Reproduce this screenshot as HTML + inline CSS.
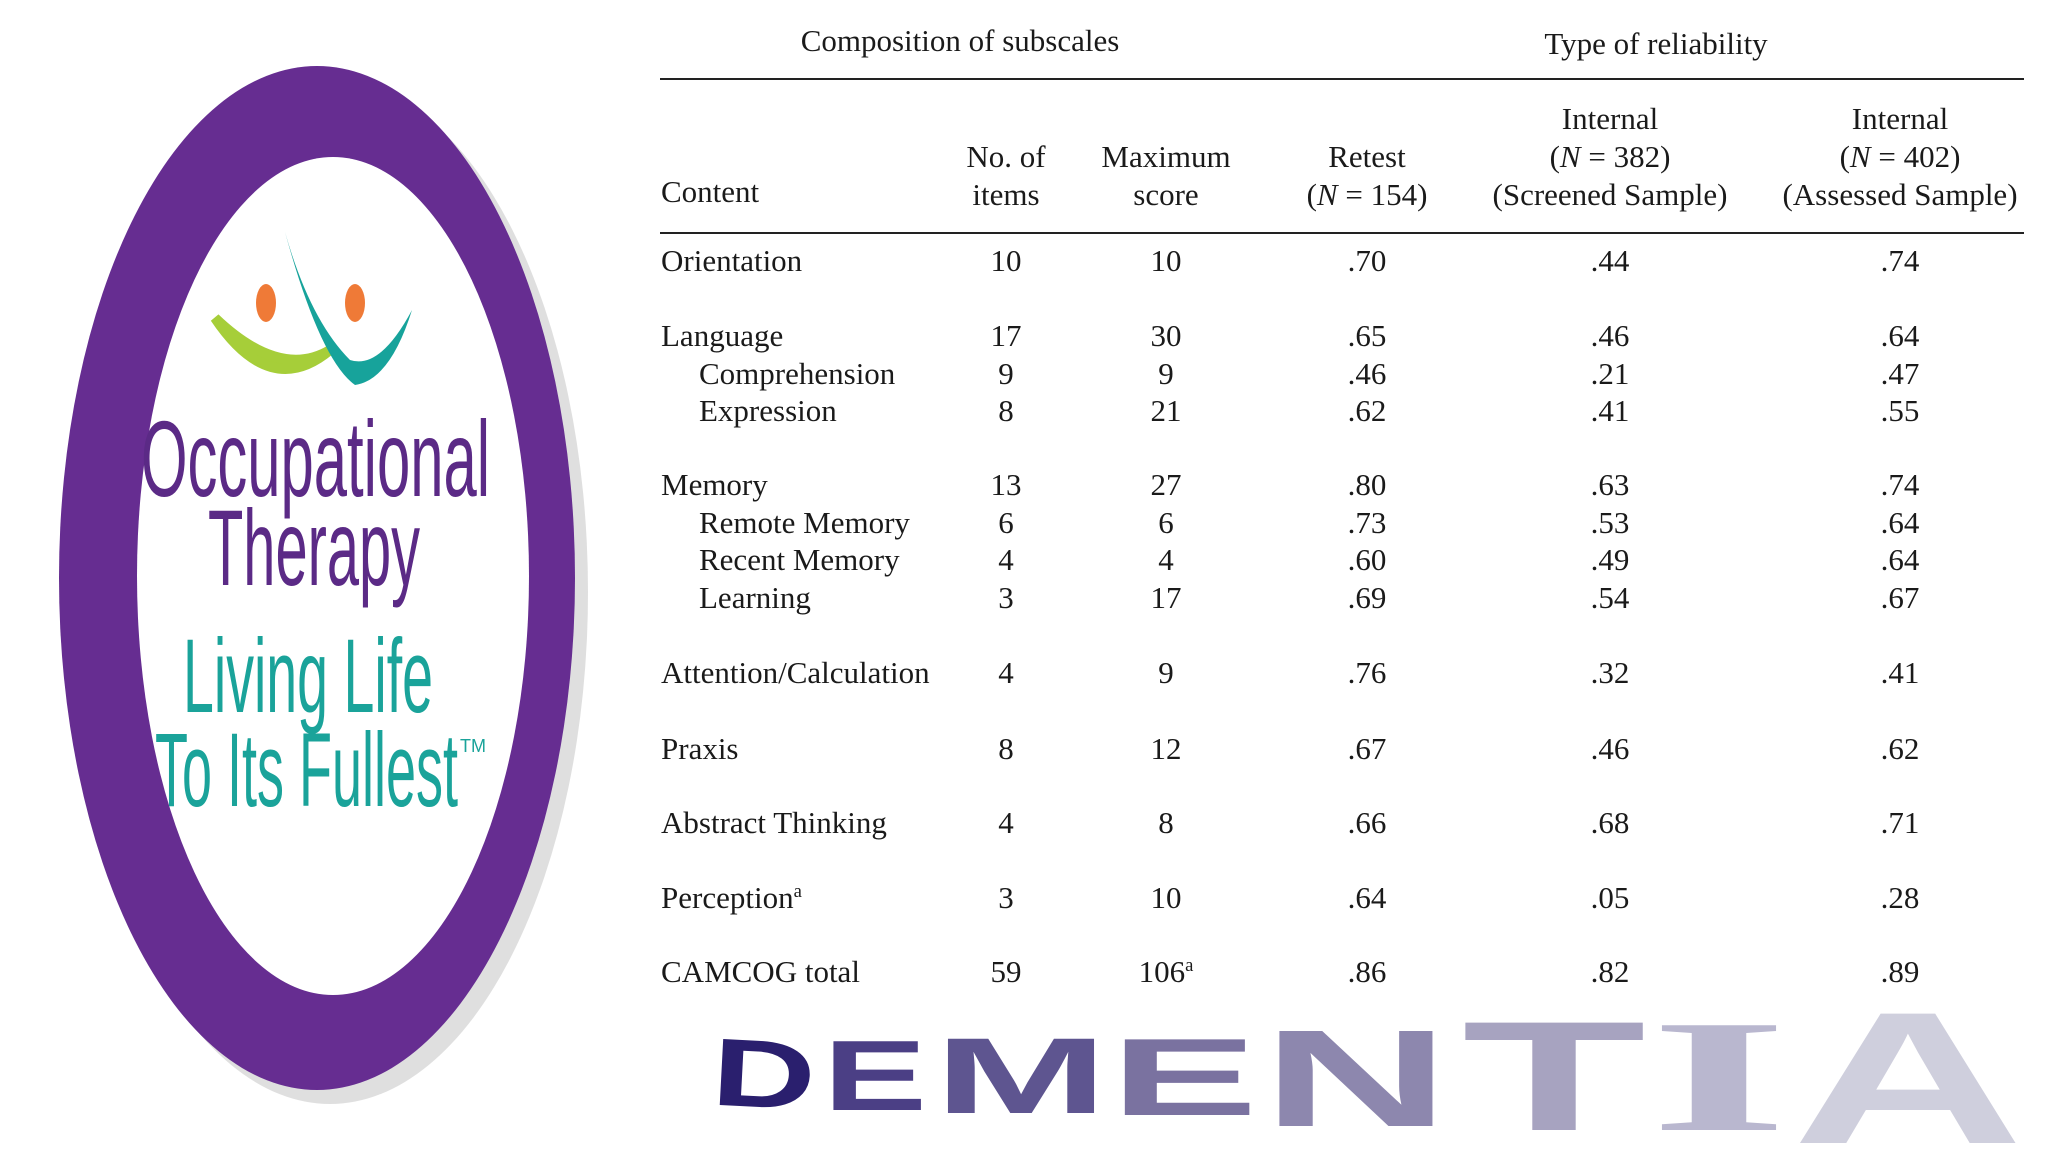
<!DOCTYPE html>
<html><head><meta charset="utf-8"><style>
html,body{margin:0;padding:0;background:#fff;}
#root{position:relative;width:2048px;height:1152px;overflow:hidden;background:#fff;font-family:"Liberation Serif",serif;color:#1a1a1a;}
.t{position:absolute;font-size:31px;white-space:nowrap;line-height:1;}
.c{transform:translateX(-50%);text-align:center;}
.rule{position:absolute;left:660px;width:1364px;background:#222;}
sup{font-size:0.6em;vertical-align:0;position:relative;top:-0.6em;line-height:0;}
</style></head><body>
<div id="root">
<svg width="2048" height="1152" style="position:absolute;left:0;top:0">
  <ellipse cx="330" cy="592" rx="258" ry="512" fill="#c9c9c9" opacity="0.6"/>
  <ellipse cx="317" cy="578" rx="258" ry="512" fill="#662d91"/>
  <ellipse cx="333" cy="576" rx="196" ry="419" fill="#fff"/>
  <ellipse cx="266" cy="303" rx="10" ry="19" fill="#ef7a37"/>
  <ellipse cx="355" cy="303" rx="10" ry="19" fill="#ef7a37"/>
  <path d="M215 318 Q270 400 330 350 Q280 380 215 318Z" fill="#a6ce39" stroke="#a6ce39" stroke-width="10"/>
  <path d="M285 232 Q320 360 355 385 Q390 380 412 310 Q380 370 350 360 Q310 320 285 232Z" fill="#17a39b"/>
  <text x="141" y="496" font-family="Liberation Sans Narrow, Liberation Sans, sans-serif" font-size="108" fill="#5b2a86" textLength="349" lengthAdjust="spacingAndGlyphs">Occupational</text>
  <text x="208" y="585" font-family="Liberation Sans Narrow, Liberation Sans, sans-serif" font-size="108" fill="#5b2a86" textLength="212" lengthAdjust="spacingAndGlyphs">Therapy</text>
  <text x="183" y="712" font-family="Liberation Sans Narrow, Liberation Sans, sans-serif" font-size="105" fill="#1aa39a" textLength="250" lengthAdjust="spacingAndGlyphs">Living Life</text>
  <text x="155" y="806" font-family="Liberation Sans Narrow, Liberation Sans, sans-serif" font-size="105" fill="#1aa39a" textLength="303" lengthAdjust="spacingAndGlyphs">To Its Fullest</text>
  <text x="460" y="752" font-family="Liberation Sans, sans-serif" font-size="18" fill="#1aa39a">TM</text>
  <g font-family="Liberation Sans, sans-serif" font-weight="bold">
    <text x="712" y="1107" font-size="96" fill="#2a1f6e" textLength="104" lengthAdjust="spacingAndGlyphs" transform="rotate(3 760 1070)">D</text>
    <text x="823" y="1110" font-size="100" fill="#4b3f85" textLength="104" lengthAdjust="spacingAndGlyphs">E</text>
    <text x="934" y="1113" font-size="108" fill="#5e5590" textLength="174" lengthAdjust="spacingAndGlyphs">M</text>
    <text x="1110" y="1115" font-size="110" fill="#7a72a0" textLength="148" lengthAdjust="spacingAndGlyphs">E</text>
    <text x="1262" y="1126" font-size="138" fill="#8d87ae" textLength="188" lengthAdjust="spacingAndGlyphs">N</text>
    <text x="1462" y="1130" font-size="156" fill="#a7a3c0" textLength="184" lengthAdjust="spacingAndGlyphs">T</text>
    <text x="1650" y="1130" font-family="Liberation Serif, serif" font-size="160" fill="#b9b7cf" textLength="138" lengthAdjust="spacingAndGlyphs">I</text>
    <text x="1792" y="1143" font-size="188" fill="#cfcfdd" textLength="232" lengthAdjust="spacingAndGlyphs">A</text>
  </g>
</svg>
<div class="t c" style="left:960px;top:25px">Composition of subscales</div>
<div class="t c" style="left:1656px;top:28px">Type of reliability</div>
<div class="rule" style="top:78px;height:2px"></div>
<div class="t" style="left:661px;top:176px">Content</div>
<div class="t c" style="left:1006px;top:138px;line-height:38px">No. of<br>items</div>
<div class="t c" style="left:1166px;top:138px;line-height:38px">Maximum<br>score</div>
<div class="t c" style="left:1367px;top:138px;line-height:38px">Retest<br>(<i>N</i> = 154)</div>
<div class="t c" style="left:1610px;top:100px;line-height:38px">Internal<br>(<i>N</i> = 382)<br>(Screened Sample)</div>
<div class="t c" style="left:1900px;top:100px;line-height:38px">Internal<br>(<i>N</i> = 402)<br>(Assessed Sample)</div>
<div class="rule" style="top:232px;height:2px"></div>
</div>
<script>
const labels=["Orientation","Language","Comprehension","Expression","Memory","Remote Memory","Recent Memory","Learning","Attention/Calculation","Praxis","Abstract Thinking","Perception<sup>a</sup>","CAMCOG total"];
const indent=[0,0,1,1,0,1,1,1,0,0,0,0,0];
const items=["10","17","9","8","13","6","4","3","4","8","4","3","59"];
const maxScore=["10","30","9","21","27","6","4","17","9","12","8","10","106<sup>a</sup>"];
const retest=[".70",".65",".46",".62",".80",".73",".60",".69",".76",".67",".66",".64",".86"];
const screened=[".44",".46",".21",".41",".63",".53",".49",".54",".32",".46",".68",".05",".82"];
const assessed=[".74",".64",".47",".55",".74",".64",".64",".67",".41",".62",".71",".28",".89"];
const rowY=[265,340,378,415,489,527,564,602,677,753,827,902,976];
const root=document.getElementById('root');
function cell(html,x,y,center){
  const d=document.createElement('div');
  d.className='t'+(center?' c':'');
  d.style.left=x+'px';d.style.top=(y-20)+'px';
  d.innerHTML=html;
  root.appendChild(d);
  return d;
}
labels.forEach((l,i)=>{
  const y=rowY[i];
  const a=cell(l,indent[i]?699:661,y,false);
  
  
  const cols=[[items,1006],[maxScore,1166],[retest,1367],[screened,1610],[assessed,1900]];
  cols.forEach(([arr,x])=>{
    const c=cell(arr[i],x,y,true);
    
    
  });
});
</script>
</body></html>
